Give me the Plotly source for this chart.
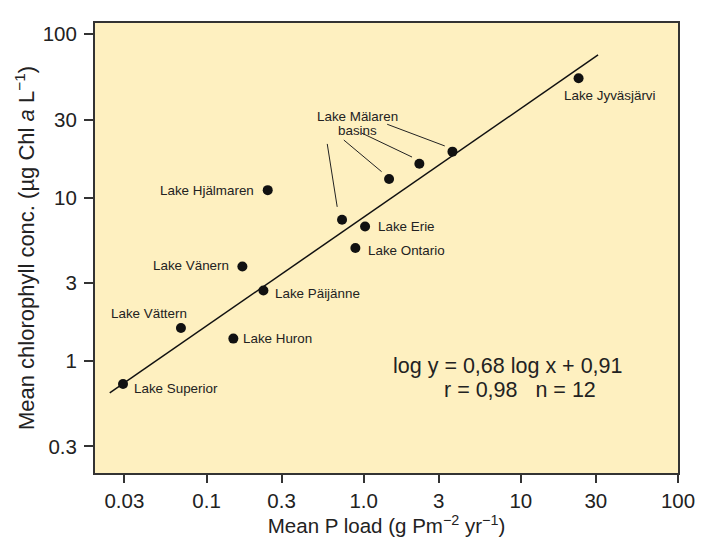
import numpy as np
import plotly.graph_objects as go

# Data
lakes = ["Lake Superior", "Lake Vättern", "Lake Huron", "Lake Päijänne", "Lake Vänern",
         "Lake Hjälmaren", "Lake Erie", "Lake Ontario", "Lake Jyväsjärvi",
         "Mälaren 1", "Mälaren 2", "Mälaren 3", "Mälaren 4"]
p_load = [0.0294, 0.0687, 0.148, 0.230, 0.169, 0.245, 1.02, 0.885, 23.3,
          0.728, 1.45, 2.26, 3.67]
chl = [0.722, 1.59, 1.37, 2.70, 3.78, 11.1, 6.65, 4.91, 53.7,
       7.31, 13.0, 16.1, 19.1]

# Regression line endpoints
line_x = [0.0242, 31.0]
line_y = [0.637, 74.6]

# Leader lines for Mälaren basins (start near label -> end near dot)
leader_x0 = [0.586, 0.747, 0.973, 1.41]
leader_y0 = [21.3, 22.5, 24.8, 28.1]
leader_x1 = [0.678, 1.30, 2.03, 3.28]
leader_y1 = [8.77, 14.4, 17.7, 20.7]

x_ticks = [0.03, 0.1, 0.3, 1, 3, 10, 30, 100]
x_ticktext = ["0.03", "0.1", "0.3", "1.0", "3", "10", "30", "100"]
y_ticks = [0.3, 1, 3, 10, 30, 100]
y_ticktext = ["0.3", "1", "3", "10", "30", "100"]

FONT = "Liberation Sans, Arial, Helvetica, sans-serif"
INK = "#222222"

fig = go.Figure()

fig.add_trace(go.Scatter(x=line_x, y=line_y, mode="lines",
                         line=dict(color="#111111", width=1.5),
                         hoverinfo="skip", showlegend=False))

for i in range(len(leader_x0)):
    fig.add_trace(go.Scatter(x=[leader_x0[i], leader_x1[i]], y=[leader_y0[i], leader_y1[i]],
                             mode="lines", line=dict(color="#222222", width=1),
                             hoverinfo="skip", showlegend=False))

fig.add_trace(go.Scatter(x=p_load, y=chl, mode="markers",
                         marker=dict(color="#111111", size=10),
                         text=lakes, showlegend=False))

# label placement: xanchor, xshift, yshift
label_pos = {
    "Lake Superior": ("left", 9, -4),
    "Lake Vättern": ("center", -32, 15),
    "Lake Huron": ("left", 8, 0),
    "Lake Päijänne": ("left", 10, -3),
    "Lake Vänern": ("right", -11, 1),
    "Lake Hjälmaren": ("right", -12, 0),
    "Lake Erie": ("left", 11, 0),
    "Lake Ontario": ("left", 11, -2),
    "Lake Jyväsjärvi": ("left", -17, -17),
}
for name, x, y in zip(lakes, p_load, chl):
    if name not in label_pos:
        continue
    xa, xs, ys = label_pos[name]
    fig.add_annotation(x=np.log10(x), y=np.log10(y), text=name, showarrow=False,
                       xanchor=xa, yanchor="middle", xshift=xs, yshift=ys,
                       font=dict(family=FONT, size=13.4, color=INK))

fig.add_annotation(x=np.log10(0.918), y=np.log10(28.6), text="Lake Mälaren", showarrow=False,
                   xanchor="center", yanchor="middle", yshift=7,
                   font=dict(family=FONT, size=13.4, color=INK))
fig.add_annotation(x=np.log10(0.918), y=np.log10(28.6), text="basins", showarrow=False,
                   xanchor="center", yanchor="middle", yshift=-7,
                   font=dict(family=FONT, size=13.4, color=INK))

# equation text
fig.add_annotation(x=np.log10(8.3), y=np.log10(0.95), text="log y = 0,68 log x + 0,91",
                   showarrow=False, xanchor="center", yanchor="middle", yshift=-1,
                   font=dict(family=FONT, size=21.5, color=INK))
fig.add_annotation(x=np.log10(9.85), y=np.log10(0.70), text="r = 0,98\u00a0\u00a0\u00a0n = 12",
                   showarrow=False, xanchor="center", yanchor="middle", yshift=-4,
                   font=dict(family=FONT, size=21.5, color=INK))

fig.update_layout(
    width=707, height=544,
    margin=dict(l=95, r=22, t=23, b=71),
    paper_bgcolor="white",
    plot_bgcolor="#FEF0C0",
    font=dict(family=FONT, color=INK),
    xaxis=dict(type="log", range=[-1.71, 2.0], tickvals=x_ticks, ticktext=x_ticktext,
               showgrid=False, zeroline=False, showline=True, mirror=True,
               linecolor="#333333", linewidth=2, ticks="outside", ticklen=8,
               tickwidth=1.5, tickcolor="#333333",
               tickfont=dict(family=FONT, size=20.5, color=INK),
               title=dict(text="Mean P load (g Pm<sup>−2</sup> yr<sup>−1</sup>)",
                          font=dict(family=FONT, size=20.5, color=INK), standoff=6)),
    yaxis=dict(type="log", range=[-0.686, 2.0685], tickvals=y_ticks, ticktext=y_ticktext,
               showgrid=False, zeroline=False, showline=True, mirror=True,
               linecolor="#333333", linewidth=2, ticks="outside", ticklen=9,
               tickwidth=1.5, tickcolor="#333333", ticklabelstandoff=3,
               tickfont=dict(family=FONT, size=20.5, color=INK),
               title=dict(text="Mean chlorophyll conc. (µg Chl <i>a</i> L<sup>−1</sup>)",
                          font=dict(family=FONT, size=22, color=INK), standoff=2)),
)

fig.write_html("out.html")
